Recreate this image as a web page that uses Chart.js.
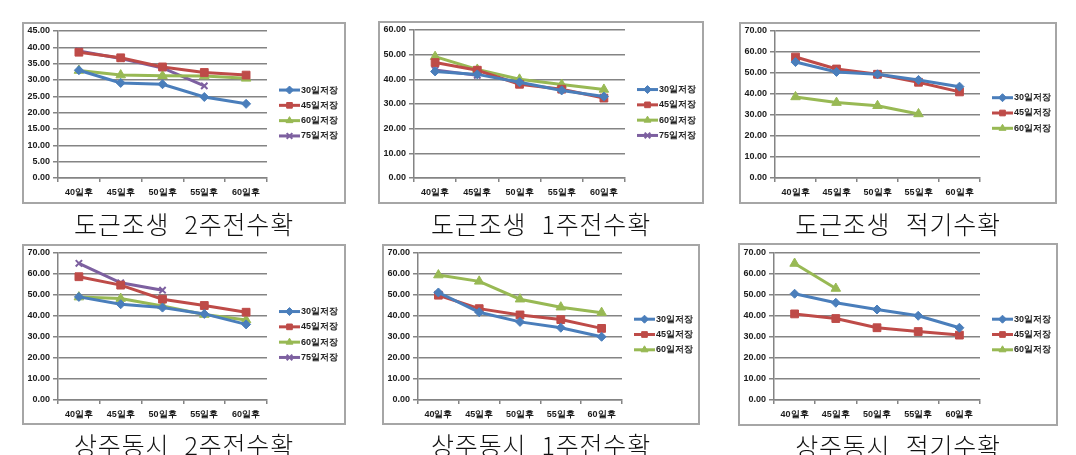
<!DOCTYPE html>
<html>
<head>
<meta charset="utf-8">
<script src="https://cdn.jsdelivr.net/npm/chart.js@4"></script>
<style>
  body { margin: 0; background: #fff; width: 1076px; height: 455px; overflow: hidden; position: relative; }
  .box { position: absolute; outline: 2px solid #a6a6a6; outline-offset: -2px; }
  .box canvas { display: block; }
  .title { position: absolute; text-align: center; font-family: "Noto Sans CJK KR", sans-serif; font-weight: 300; font-size: 25px; line-height: 28px; color: #111; letter-spacing: 0.8px; word-spacing: 9px; white-space: pre; }
</style>
</head>
<body>
<script>
const categories = ["40일후", "45일후", "50일후", "55일후", "60일후"];
const seriesNames = ["30일저장", "45일저장", "60일저장", "75일저장"];

// 도근조생 2주전수확
const dg2_30 = [33.0, 29.1, 28.7, 24.8, 22.7];
const dg2_45 = [38.5, 36.8, 34.0, 32.3, 31.5];
const dg2_60 = [32.9, 31.5, 31.3, 31.2, 30.5];
const dg2_75 = [38.9, 36.6, 33.7, 28.2, null];

// 도근조생 1주전수확
const dg1_30 = [43.2, 42.0, 38.8, 35.5, 33.0];
const dg1_45 = [46.8, 43.7, 38.0, 36.0, 32.4];
const dg1_60 = [49.2, 44.0, 40.0, 37.9, 35.9];
const dg1_75 = [43.8, 41.6, null, null, null];

// 도근조생 적기수확
const dgj_30 = [55.2, 50.5, 49.4, 46.7, 43.5];
const dgj_45 = [57.6, 51.9, 49.4, 45.6, 41.0];
const dgj_60 = [38.6, 35.9, 34.4, 30.5, null];

// 상주동시 2주전수확
const sj2_30 = [49.1, 45.6, 44.0, 41.0, 36.0];
const sj2_45 = [58.7, 54.7, 48.0, 45.0, 41.8];
const sj2_60 = [49.0, 48.3, 44.8, 40.7, 38.1];
const sj2_75 = [65.1, 55.8, 52.3, null, null];

// 상주동시 1주전수확
const sj1_30 = [51.2, 41.8, 37.2, 34.4, 30.1];
const sj1_45 = [49.9, 43.5, 40.5, 38.3, 34.1];
const sj1_60 = [59.5, 56.5, 48.0, 44.2, 41.6];

// 상주동시 적기수확
const sjj_30 = [50.6, 46.3, 43.1, 40.1, 34.4];
const sjj_45 = [41.0, 38.8, 34.4, 32.6, 30.9];
const sjj_60 = [65.0, 53.1, null, null, null];

const titles = ["도근조생 2주전수확", "도근조생 1주전수확", "도근조생 적기수확",
                "상주동시 2주전수확", "상주동시 1주전수확", "상주동시 적기수확"];
const yMaxes = [45, 60, 70, 70, 70, 70];
const ySteps = [5, 10, 10, 10, 10, 10];

const colors = ["#4a7ebb", "#be4b48", "#98b954", "#7d60a0"];
const markers = ["rectRot", "rect", "triangle", "crossRot"];
const markerSize = [4.5, 5.5, 5.5, 4.5];

/* =========================
   PANEL LAYOUT
========================= */

const panels = [
    { x: 22,  y: 22,  w: 324, h: 182, top: 9,  right: 79, xh: 26, data: [dg2_30, dg2_45, dg2_60, dg2_75] },
    { x: 378, y: 21,  w: 326, h: 183, top: 9,  right: 79, xh: 26, data: [dg1_30, dg1_45, dg1_60, dg1_75] },
    { x: 739, y: 22,  w: 318, h: 182, top: 9,  right: 77, xh: 26, data: [dgj_30, dgj_45, dgj_60] },
    { x: 22,  y: 244, w: 324, h: 181, top: 9,  right: 79, xh: 25, data: [sj2_30, sj2_45, sj2_60, sj2_75] },
    { x: 382, y: 244, w: 318, h: 181, top: 9,  right: 78, xh: 25, data: [sj1_30, sj1_45, sj1_60] },
    { x: 738, y: 243, w: 320, h: 183, top: 10, right: 78, xh: 26, data: [sjj_30, sjj_45, sjj_60] }
];

const gridColor = "#848484";
const tickFont = { family: "Liberation Sans", size: 9, weight: "bold" };

// legend on the right: short line with the marker in the middle
const sideLegend = {
    id: "sideLegend",
    afterDraw(chart) {
        const ctx = chart.ctx;
        const sets = chart.data.datasets;
        const x0 = chart.chartArea.right + 12;
        const gap = 15.3;
        const y0 = chart.height / 2 - gap * (sets.length - 1) / 2;
        ctx.save();
        sets.forEach((ds, i) => {
            const y = y0 + i * gap;
            ctx.strokeStyle = ds.borderColor;
            ctx.lineWidth = 3;
            ctx.beginPath();
            ctx.moveTo(x0, y);
            ctx.lineTo(x0 + 21, y);
            ctx.stroke();
            ctx.fillStyle = ds.borderColor;
            ctx.lineWidth = ds.pointBorderWidth;
            Chart.helpers.drawPoint(ctx, {
                pointStyle: ds.pointStyle, radius: 4, rotation: 0, borderWidth: ds.pointBorderWidth
            }, x0 + 10.5, y);
            ctx.fillStyle = "#222";
            ctx.font = 'bold 9px "Liberation Sans"';
            ctx.textBaseline = "middle";
            ctx.fillText(ds.label, x0 + 22, y);
        });
        ctx.restore();
    }
};

panels.forEach((p, k) => {
    const box = document.createElement("div");
    box.className = "box";
    box.style.left = p.x + "px";
    box.style.top = p.y + "px";
    const canvas = document.createElement("canvas");
    canvas.width = p.w;
    canvas.height = p.h;
    box.appendChild(canvas);
    document.body.appendChild(box);

    const title = document.createElement("div");
    title.className = "title";
    title.textContent = titles[k];
    title.style.left = p.x + "px";
    title.style.width = p.w + "px";
    title.style.top = (p.y + p.h + 5) + "px";
    document.body.appendChild(title);

    new Chart(canvas.getContext("2d"), {
        type: "line",
        data: {
            labels: categories,
            datasets: p.data.map((values, i) => ({
                label: seriesNames[i],
                data: values,
                borderColor: colors[i],
                backgroundColor: colors[i],
                pointBackgroundColor: colors[i],
                pointBorderColor: colors[i],
                pointStyle: markers[i],
                pointRadius: markerSize[i],
                pointBorderWidth: i === 3 ? 2 : 1,
                borderWidth: 3,
                tension: 0,
                spanGaps: false
            }))
        },
        options: {
            responsive: false,
            animation: false,
            devicePixelRatio: 1,
            layout: { padding: { left: 0, top: p.top, right: p.right, bottom: 0 } },
            plugins: {
                legend: { display: false },
                tooltip: { enabled: false }
            },
            scales: {
                x: {
                    offset: true,
                    grid: { offset: true, drawOnChartArea: false, drawTicks: true, tickLength: 4, color: gridColor, lineWidth: 1.5 },
                    border: { display: true, color: gridColor, width: 1.5 },
                    ticks: { font: tickFont, color: "#1a1a1a", padding: 5, maxRotation: 0 },
                    afterFit(scale) { scale.height = p.xh; }
                },
                y: {
                    min: 0,
                    max: yMaxes[k],
                    grid: { color: gridColor, lineWidth: 1.5, tickLength: 5 },
                    border: { display: true, color: gridColor, width: 1.5 },
                    ticks: {
                        stepSize: ySteps[k],
                        font: tickFont,
                        color: "#1a1a1a",
                        padding: 3,
                        callback: v => v.toFixed(2)
                    },
                    afterFit(scale) { scale.width = 36; }
                }
            }
        },
        plugins: [sideLegend]
    });
});
</script>
</body>
</html>
